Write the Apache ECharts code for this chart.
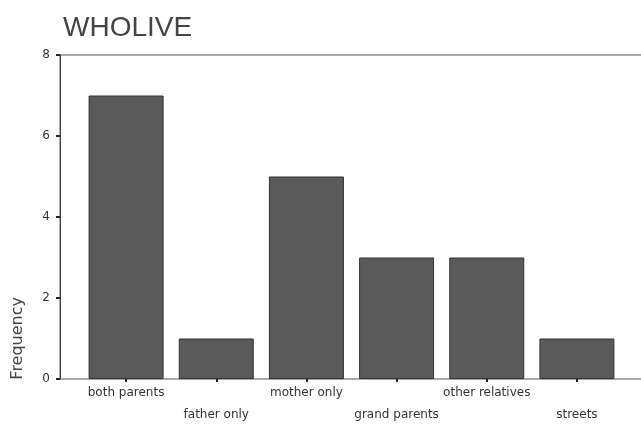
<!DOCTYPE html>
<html><head><meta charset="utf-8">
<script src="https://cdn.jsdelivr.net/npm/echarts@6/dist/echarts.min.js"></script>
<style>html,body{margin:0;padding:0;background:#fff}#c{width:641px;height:424px}</style>
</head><body><div id="c"></div>
<script>
const categories = ['both parents','father only','mother only','grand parents','other relatives','streets'];
const frequency = [7, 1, 5, 3, 3, 1];
const yTicks = [0, 2, 4, 6, 8];

const chart = echarts.init(document.getElementById('c'), null, {renderer:'canvas'});
const font = 'Liberation Sans, Arial, sans-serif';
const font2 = 'DejaVu Sans, sans-serif';
chart.setOption({
  animation: false,
  backgroundColor: '#fff',
  title: {text: 'WHOLIVE', left: 58, top: 9,
    textStyle: {fontFamily: font, fontSize: 28, fontWeight: 'normal', color: '#444'}},
  grid: [
    {left: 60, right: -5, top: 55, bottom: 45, show: true, borderColor: '#555', borderWidth: 1, backgroundColor: 'transparent', outerBoundsMode: 'none', containLabel: false},
    {left: 81, right: 19, top: 55, bottom: 45, outerBoundsMode: 'none', containLabel: false}
  ],
  xAxis: [
    {gridIndex: 0, type: 'value', show: false, min: 0, max: 1},
    {gridIndex: 1, type: 'category', data: categories,
     axisLine: {show: false},
     axisTick: {show: true, alignWithLabel: true, length: 3, lineStyle: {color: '#222', width: 2}},
     axisLabel: {fontFamily: font2, fontSize: 12, color: '#333', margin: 3, lineHeight: 22, interval: 0,
       formatter: (v, i) => (i % 2 ? '\n' + v : v)}}
  ],
  yAxis: [
    {gridIndex: 0, type: 'value', show: false, min: 0, max: 1},
    {gridIndex: 1, type: 'value', min: yTicks[0], max: yTicks[yTicks.length-1], interval: 2, offset: 21,
     axisLine: {show: true, lineStyle: {color: '#444', width: 1}},
     axisTick: {show: true, length: 4, lineStyle: {color: '#222', width: 2}},
     splitLine: {show: false},
     axisLabel: {fontFamily: font2, fontSize: 12, color: '#333', margin: 10}}
  ],
  graphic: [{type: 'text', left: 10, top: 297, rotation: Math.PI/2,
    style: {text: 'Frequency', font: '16px ' + font2, fill: '#444'}}],
  series: [{type: 'bar', xAxisIndex: 1, yAxisIndex: 1, data: frequency, barWidth: 75,
    itemStyle: {color: '#5a5a5a', borderColor: '#333', borderWidth: 1}}]
});
</script></body></html>
